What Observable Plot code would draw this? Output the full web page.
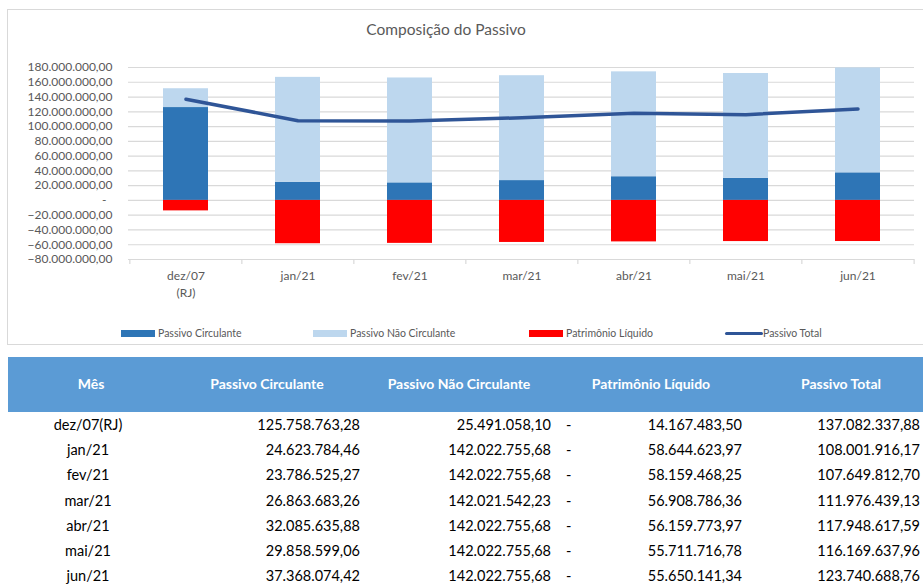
<!DOCTYPE html>
<html><head><meta charset="utf-8">
<script src="https://cdn.jsdelivr.net/npm/d3@7"></script>
<script src="https://cdn.jsdelivr.net/npm/@observablehq/plot@0.6"></script>
<style>
body{margin:0;width:923px;height:587px;overflow:hidden;background:#fff;position:relative;font-family:Lato,"Open Sans",sans-serif;}
#box{position:absolute;left:7px;top:9px;width:940px;height:336px;border:1px solid #d9d9d9;box-sizing:border-box;}
#title{position:absolute;left:296px;width:300px;top:19px;text-align:center;font-size:15.5px;color:#595959;line-height:20px;}
#chart{position:absolute;left:0;top:0;}
.leg{position:absolute;top:327px;height:12px;font-size:10.5px;color:#595959;line-height:12px;white-space:nowrap;}
.sw{position:absolute;}
#thead{position:absolute;left:8px;top:357px;width:930px;height:55px;background:#5B9BD5;}
.cell{position:absolute;white-space:nowrap;line-height:20px;}
.h{color:#fff;font-weight:bold;font-size:14px;top:374px;}
.b{color:#000;font-size:14.5px;}
</style></head>
<body>
<div id="box"></div>
<div id="title">Composição do Passivo</div>
<div id="chart"></div>
<div id="legend"></div>
<div id="thead"></div>
<div id="table"></div>
<script>
const months = ["dez/07(RJ)","jan/21","fev/21","mar/21","abr/21","mai/21","jun/21"];
const seriesNames = ["Passivo Circulante","Passivo Não Circulante","Patrimônio Líquido","Passivo Total"];
const seriesColors = ["#2E75B6","#BDD7EE","#FF0000","#2F5597"];
const passivoCirculante = [125758763.28, 24623784.46, 23786525.27, 26863683.26, 32085635.88, 29858599.06, 37368074.42];
const passivoNaoCirculante = [25491058.10, 142022755.68, 142022755.68, 142021542.23, 142022755.68, 142022755.68, 142022755.68];
const patrimonioLiquido = [-14167483.50, -58644623.97, -58159468.25, -56908786.36, -56159773.97, -55711716.78, -55650141.34];
const passivoTotal = [137082337.88, 108001916.17, 107649812.70, 111976439.13, 117948617.59, 116169637.96, 123740688.76];
const yTicks = [-80e6,-60e6,-40e6,-20e6,0,20e6,40e6,60e6,80e6,100e6,120e6,140e6,160e6,180e6];
const tableHeaders = ["Mês","Passivo Circulante","Passivo Não Circulante","Patrimônio Líquido","Passivo Total"];

const br = d3.formatLocale({decimal: ",", thousands: ".", grouping: [3], currency: ["R$", ""]});
const fmt = br.format(",.2f");
const yFmt = d => d === 0 ? "-\u2002" : fmt(d);

const barRows = [];
months.forEach((m, i) => {
  barRows.push({month: m, series: seriesNames[0], value: passivoCirculante[i]});
  barRows.push({month: m, series: seriesNames[1], value: passivoNaoCirculante[i]});
  barRows.push({month: m, series: seriesNames[2], value: patrimonioLiquido[i]});
});
const lineRows = months.map((m, i) => ({month: m, total: passivoTotal[i]}));

const W = 923, ML = 128, MR = 9;
const step = (W - ML - MR) / months.length;
const axisColor = "#d9d9d9";

const plot = Plot.plot({
  width: W, height: 300,
  marginLeft: ML, marginRight: MR, marginTop: 67, marginBottom: 41,
  style: {fontFamily: "Lato, 'Open Sans', sans-serif", fontSize: "12px", color: "#595959", background: "transparent", overflow: "visible"},
  x: {domain: months, paddingInner: 0.6, paddingOuter: 0.3, align: 0.5, axis: null, label: null},
  y: {domain: [-80e6, 180e6], axis: null, label: null},
  color: {domain: seriesNames.slice(0, 3), range: seriesColors.slice(0, 3)},
  marks: [
    Plot.ruleY(yTicks, {stroke: axisColor, strokeWidth: 1.2}),
    Plot.axisY({ticks: yTicks, tickFormat: yFmt, tickSize: 0, tickPadding: 16, anchor: "left", fill: "#595959", label: null}),
    Plot.axisX({tickSize: 0, tickPadding: 9, lineHeight: 1.4, fill: "#595959", label: null,
      tickFormat: d => d.replace("(RJ)", "\n(RJ)")}),
    Plot.ruleX(months, {x: d => d, y1: -80e6, y2: -80e6, insetBottom: -5, dx: -step / 2, stroke: axisColor, strokeWidth: 1.2}),
    Plot.ruleX(months.slice(-1), {x: d => d, y1: -80e6, y2: -80e6, insetBottom: -5, dx: step / 2, stroke: axisColor, strokeWidth: 1.2}),
    Plot.barY(barRows, {x: "month", y: "value", fill: "series", order: seriesNames.slice(0, 3)}),
    Plot.lineY(lineRows, {x: "month", y: "total", stroke: seriesColors[3], strokeWidth: 3.5, strokeLinecap: "round", strokeLinejoin: "round", curve: "linear"})
  ]
});
document.getElementById("chart").appendChild(plot);

// legend
const legend = document.getElementById("legend");
const legX = [121, 313, 529, 725];
seriesNames.forEach((name, i) => {
  const isLine = i === 3;
  const sw = document.createElement("div");
  sw.className = "sw";
  sw.style.left = legX[i] + "px";
  sw.style.width = (isLine ? 38 : 34) + "px";
  sw.style.height = (isLine ? 3 : 7) + "px";
  sw.style.top = (isLine ? 332 : 330) + "px";
  sw.style.background = seriesColors[i];
  if (isLine) sw.style.borderRadius = "2px";
  legend.appendChild(sw);
  const t = document.createElement("div");
  t.className = "leg";
  t.style.left = (legX[i] + (isLine ? 38 : 37)) + "px";
  t.textContent = name;
  legend.appendChild(t);
});

// table
const table = document.getElementById("table");
function cell(text, cls, x, y, align) {
  const d = document.createElement("div");
  d.className = "cell " + cls;
  d.textContent = text;
  if (align === "center") { d.style.left = (x - 150) + "px"; d.style.width = "300px"; d.style.textAlign = "center"; }
  else if (align === "right") { d.style.left = (x - 300) + "px"; d.style.width = "300px"; d.style.textAlign = "right"; }
  else { d.style.left = x + "px"; }
  if (y != null) d.style.top = (y - 10) + "px";
  table.appendChild(d);
}
const headerX = [91, 267, 459, 651, 841];
tableHeaders.forEach((h, i) => cell(h, "h", headerX[i], 384, "center"));
const rowY0 = 425, rowStep = 25.2;
months.forEach((m, i) => {
  const y = rowY0 + i * rowStep;
  cell(m, "b", 88, y, "center");
  cell(fmt(passivoCirculante[i]), "b", 360, y, "right");
  cell(fmt(passivoNaoCirculante[i]), "b", 551, y, "right");
  cell("-", "b", 566, y, "left");
  cell(fmt(Math.abs(patrimonioLiquido[i])), "b", 742, y, "right");
  cell(fmt(passivoTotal[i]), "b", 920, y, "right");
});
</script>
</body></html>
